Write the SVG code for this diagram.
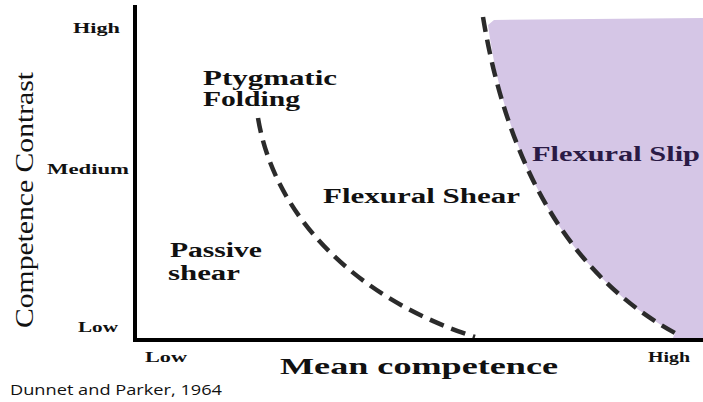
<svg xmlns="http://www.w3.org/2000/svg" width="703" height="402" viewBox="0 0 703 402">
<style>
.b{font-family:"Liberation Serif","Times New Roman",serif;font-weight:bold;fill:#111}
.tick{font-size:14px}
.reg{font-size:20px}
.dash{fill:none;stroke:#2b2b2b;stroke-width:4.5;stroke-dasharray:15 8;stroke-linecap:butt}
.axis{fill:none;stroke:#000;stroke-width:4}
</style>
<rect width="703" height="402" fill="#fff"/>
<g id="flexural-slip-region">
<path d="M494,20 L703,18 L703,340 L672,340 L675,333 C560,270 505,150 488,25 Z" fill="#d5c6e6"/>
</g>
<g id="connectors">
<path class="dash" d="M483,17 C505,150 560,270 675,333"/>
<path class="dash" d="M258,118 C275,220 360,300 475,337"/>
</g>
<g id="axes">
<path class="axis" d="M135,5 L135,340 L703,340"/>
</g>
<g id="y-labels">
<text class="b tick" x="73" y="33" textLength="47" lengthAdjust="spacingAndGlyphs">High</text>
<text class="b tick" x="47" y="174" textLength="82" lengthAdjust="spacingAndGlyphs">Medium</text>
<text class="b tick" x="78" y="332" textLength="40" lengthAdjust="spacingAndGlyphs">Low</text>
<text transform="translate(33,200) rotate(-90)" text-anchor="middle" font-family="'Liberation Serif','Times New Roman',serif" font-size="26" fill="#111" textLength="256" lengthAdjust="spacingAndGlyphs">Competence Contrast</text>
</g>
<g id="x-labels">
<text class="b tick" x="145" y="362" textLength="42" lengthAdjust="spacingAndGlyphs">Low</text>
<text class="b tick" x="648" y="362" textLength="42" lengthAdjust="spacingAndGlyphs">High</text>
<text class="b" x="280" y="374" font-size="24" textLength="278" lengthAdjust="spacingAndGlyphs">Mean competence</text>
</g>
<g id="ptygmatic-folding">
<text class="b reg" x="203" y="85" textLength="134" lengthAdjust="spacingAndGlyphs">Ptygmatic</text>
<text class="b reg" x="203" y="106" textLength="97" lengthAdjust="spacingAndGlyphs">Folding</text>
</g>
<g id="passive-shear">
<text class="b reg" x="170" y="257" textLength="92" lengthAdjust="spacingAndGlyphs">Passive</text>
<text class="b reg" x="168" y="280" textLength="72" lengthAdjust="spacingAndGlyphs">shear</text>
</g>
<g id="flexural-shear">
<text class="b reg" x="323" y="203" textLength="197" lengthAdjust="spacingAndGlyphs">Flexural Shear</text>
</g>
<g id="flexural-slip">
<text class="b reg" x="532" y="161" style="fill:#2a1a45" textLength="168" lengthAdjust="spacingAndGlyphs">Flexural Slip</text>
</g>
<g id="citation">
<text x="10" y="395" font-family="'Open Sans','Liberation Sans',Arial,sans-serif" font-size="15" fill="#111" textLength="212" lengthAdjust="spacingAndGlyphs">Dunnet and Parker, 1964</text>
</g>
</svg>
